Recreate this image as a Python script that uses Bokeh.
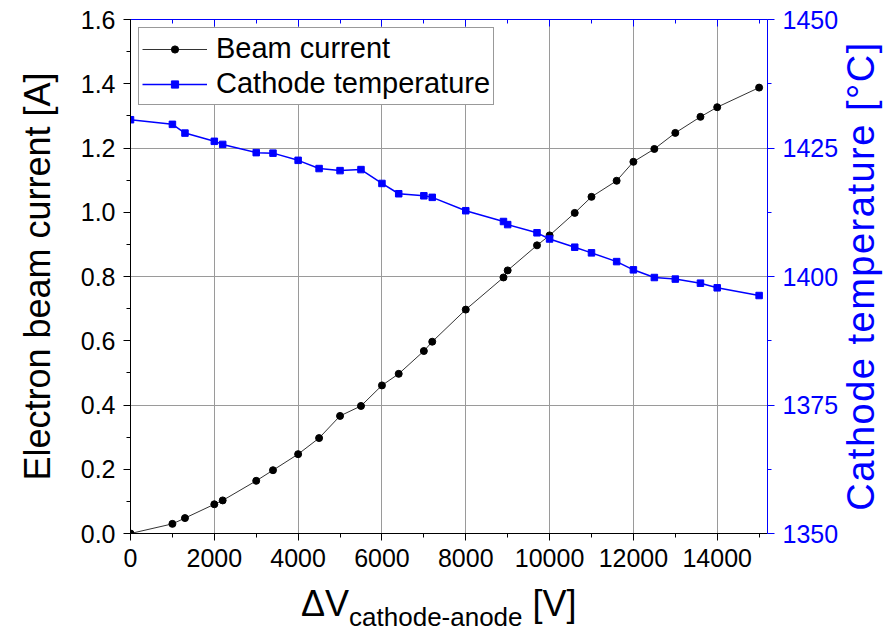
import math
from bokeh.plotting import figure
from bokeh.layouts import row, column
from bokeh.models import (Range1d, LinearAxis, SingleIntervalTicker, Legend, LegendItem,
                          PrintfTickFormatter, CustomJSTickFormatter, Div)
from bokeh.embed import file_html
from bokeh.resources import INLINE

# ---------------- data ----------------
voltage = [0, 1000, 1300, 2000, 2200, 3000, 3400, 4000, 4500, 5000, 5500, 6000, 6400,
           7000, 7200, 8000, 8900, 9000, 9700, 10000, 10600, 11000, 11600, 12000,
           12500, 13000, 13600, 14000, 15000]
beam_current = [0.0, 0.030, 0.048, 0.091, 0.103, 0.164, 0.197, 0.247, 0.297, 0.366,
                0.397, 0.461, 0.497, 0.568, 0.597, 0.697, 0.797, 0.819, 0.897, 0.928,
                0.998, 1.048, 1.098, 1.157, 1.197, 1.247, 1.297, 1.327, 1.388]
cathode_temp = [1430.5, 1429.6, 1427.9, 1426.3, 1425.7, 1424.1, 1424.0, 1422.6, 1421.0,
                1420.6, 1420.8, 1418.1, 1416.1, 1415.7, 1415.4, 1412.8, 1410.7, 1410.1,
                1408.5, 1407.3, 1405.7, 1404.6, 1402.9, 1401.3, 1399.8, 1399.5, 1398.7,
                1397.8, 1396.3]
series_names = ["Beam current", "Cathode temperature"]
y_label = "Electron beam current [A]"
y2_label = "Cathode temperature [°C]"
x_label_main = "ΔV"
x_label_sub = "cathode-anode"
x_label_unit = "[V]"

FONT = "Liberation Sans"
BLUE = "#0000ff"

p = figure(width=845, height=580,
           min_border_left=130, min_border_right=78, min_border_top=19, min_border_bottom=47,
           x_range=Range1d(0, 15200), y_range=Range1d(0, 1.6),
           output_backend="svg", toolbar_location=None)
p.outline_line_color = None
p.background_fill_color = "white"
p.border_fill_color = "white"

p.extra_y_ranges = {"temp": Range1d(1350, 1450)}

# bottom axis
xax = p.xaxis[0]
xax.ticker = SingleIntervalTicker(interval=2000, num_minor_ticks=2)
xax.formatter = PrintfTickFormatter(format="%d")
# left axis
yax = p.yaxis[0]
yax.ticker = SingleIntervalTicker(interval=0.2, num_minor_ticks=2)
yax.formatter = PrintfTickFormatter(format="%.1f")
yax.axis_label = y_label
yax.axis_label_text_font = FONT
yax.axis_label_text_font_size = "36px"
yax.axis_label_text_font_style = "normal"
yax.axis_label_text_color = "black"
yax.axis_label_standoff = 20

for ax in (xax, yax):
    ax.axis_line_color = "black"
    ax.major_tick_line_color = "black"
    ax.minor_tick_line_color = "black"
    ax.major_tick_in = 0
    ax.major_tick_out = 7
    ax.minor_tick_in = 0
    ax.minor_tick_out = 4
    ax.major_label_text_font = FONT
    ax.major_label_text_font_size = "25px"
    ax.major_label_text_color = "black"
    ax.major_label_standoff = 8

# right axis
rax = LinearAxis(y_range_name="temp", ticker=SingleIntervalTicker(interval=25, num_minor_ticks=2),
                 formatter=PrintfTickFormatter(format="%d"))
rax.axis_line_color = BLUE
rax.major_tick_line_color = BLUE
rax.minor_tick_line_color = BLUE
rax.major_tick_in = 0
rax.major_tick_out = 7
rax.minor_tick_in = 0
rax.minor_tick_out = 4
rax.major_label_text_font = FONT
rax.major_label_text_font_size = "25px"
rax.major_label_text_color = BLUE
rax.major_label_standoff = 8
p.add_layout(rax, "right")

# top axis (no labels, inward ticks)
tax = LinearAxis(ticker=SingleIntervalTicker(interval=2000, num_minor_ticks=2),
                 formatter=CustomJSTickFormatter(code="return ''"))
tax.axis_line_color = BLUE
tax.major_tick_line_color = BLUE
tax.minor_tick_line_color = BLUE
tax.major_tick_in = 7
tax.major_tick_out = 0
tax.minor_tick_in = 4
tax.minor_tick_out = 0
tax.major_label_text_font_size = "1px"
tax.major_label_standoff = 0
p.add_layout(tax, "above")

# grids
p.xgrid.ticker = SingleIntervalTicker(interval=2000)
p.ygrid.ticker = SingleIntervalTicker(interval=0.4)
for g in (p.xgrid, p.ygrid):
    g.grid_line_color = "#9a9a9a"
    g.grid_line_width = 1

# data
l1 = p.line(voltage, beam_current, line_color="#333333", line_width=1)
s1 = p.scatter(voltage, beam_current, marker="circle", size=7, fill_color="black", line_color="black")
l2 = p.line(voltage, cathode_temp, y_range_name="temp", line_color=BLUE, line_width=1.5)
s2 = p.scatter(voltage, cathode_temp, y_range_name="temp", marker="square", size=6.5,
               fill_color=BLUE, line_color=BLUE)

legend = Legend(items=[LegendItem(label=series_names[0], renderers=[l1, s1]),
                       LegendItem(label=series_names[1], renderers=[l2, s2])],
                location="top_left")
legend.margin = 8
legend.padding = 3
legend.spacing = 0
legend.glyph_width = 65
legend.glyph_height = 18
legend.label_height = 35
legend.label_standoff = 9
legend.label_text_font = FONT
legend.label_text_font_size = "29px"
legend.label_text_color = "black"
legend.border_line_color = "#333333"
legend.border_line_width = 1
legend.background_fill_alpha = 1.0
p.add_layout(legend, "center")

# x axis label (with subscript) below the figure
xdiv = Div(width=845, height=54, margin=0, text=(
    f"<div style=\"padding-left:301px; padding-top:6px; font-family:'{FONT}'; font-size:36px; "
    f"line-height:36px; color:black; white-space:nowrap;\">{x_label_main}"
    f"<span style=\"font-size:26px; position:relative; top:10px;\">{x_label_sub}</span> "
    f"{x_label_unit}</div>"))

# right axis label, reading bottom-to-top
ydiv = Div(width=50, height=634, margin=0, text=(
    "<div style=\"position:relative; width:50px; height:634px;\">"
    "<div style=\"position:absolute; left:0; top:0; width:634px; height:50px; "
    "transform-origin:0 0; transform:translate(0px, 634px) rotate(-90deg); "
    "padding-left:82px; padding-top:1px; box-sizing:border-box; text-align:center; "
    f"font-family:'{FONT}'; font-size:38px; line-height:30px; letter-spacing:1.5px; "
    f"color:{BLUE}; white-space:nowrap;\">{y2_label}</div></div>"))

layout = row(column(p, xdiv, spacing=0), ydiv, spacing=0)

open("out.html", "w").write(file_html(layout, INLINE))
